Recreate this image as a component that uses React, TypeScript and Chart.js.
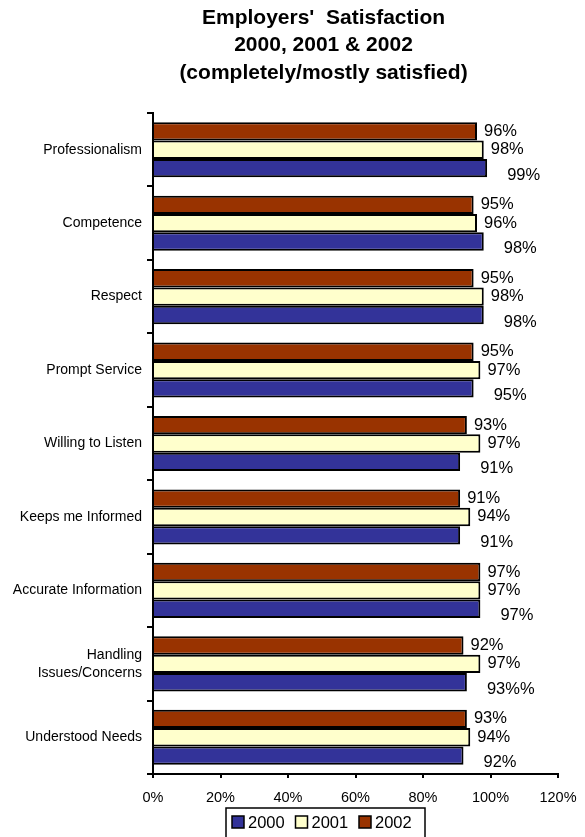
import React, { useEffect, useRef } from "react";
import { Chart, registerables } from "chart.js";

Chart.register(...registerables);

const categories: (string | string[])[] = [
  "Professionalism",
  "Competence",
  "Respect",
  "Prompt Service",
  "Willing to Listen",
  "Keeps me Informed",
  "Accurate Information",
  ["Handling", "Issues/Concerns"],
  "Understood Needs",
];

const values2002 = [96, 95, 95, 95, 93, 91, 97, 92, 93];
const values2001 = [98, 96, 98, 97, 97, 94, 97, 97, 94];
const values2000 = [99, 98, 98, 95, 91, 91, 97, 93, 92];

const labels2002 = ["96%", "95%", "95%", "95%", "93%", "91%", "97%", "92%", "93%"];
const labels2001 = ["98%", "96%", "98%", "97%", "97%", "94%", "97%", "97%", "94%"];
const labels2000 = ["99%", "98%", "98%", "95%", "91%", "91%", "97%", "93%%", "92%"];

const xTicks = [0, 20, 40, 60, 80, 100, 120];
const titleLines = ["Employers'  Satisfaction", "2000, 2001 & 2002", "(completely/mostly satisfied)"];
const legendNames = ["2000", "2001", "2002"];

const COLOR_2000 = "#333399";
const COLOR_2001 = "#FFFFCC";
const COLOR_2002 = "#993300";
const FONT = "'Liberation Sans', Arial, Helvetica, sans-serif";

export default function App() {
  const ref = useRef<HTMLCanvasElement | null>(null);

  useEffect(() => {
    if (!ref.current) return;
    Chart.defaults.font.family = FONT;
    Chart.defaults.color = "#000";

    const seriesLabels = [labels2002, labels2001, labels2000];
    const labelGap = [7, 7, 20];
    const labelDy = [0, 0, 7];

    const decorations = {
      id: "decorations",
      afterDatasetsDraw(chart: any) {
        const ctx = chart.ctx;
        ctx.save();
        ctx.fillStyle = "#000";
        ctx.font = `16.5px ${FONT}`;
        ctx.textAlign = "left";
        ctx.textBaseline = "middle";
        chart.data.datasets.forEach((_: any, di: number) => {
          const meta = chart.getDatasetMeta(di);
          meta.data.forEach((el: any, i: number) => {
            ctx.fillText(seriesLabels[di][i], el.x + labelGap[di], el.y + labelDy[di]);
          });
        });
        ctx.restore();
      },
      afterDraw(chart: any) {
        const ctx = chart.ctx;
        ctx.save();
        // Title
        ctx.fillStyle = "#000";
        ctx.font = `bold 21px ${FONT}`;
        ctx.textAlign = "center";
        ctx.textBaseline = "middle";
        const tx = 315.5;
        titleLines.forEach((t, i) => ctx.fillText(t, tx, 10 + i * 27.5));

        // Legend
        const colors = [COLOR_2000, COLOR_2001, COLOR_2002];
        const boxLeft = 218;
        const boxTop = 800;
        ctx.lineWidth = 1.5;
        ctx.strokeStyle = "#000";
        ctx.fillStyle = "#fff";
        ctx.fillRect(boxLeft, boxTop, 199, 40);
        ctx.strokeRect(boxLeft, boxTop, 199, 40);
        ctx.font = `16.5px ${FONT}`;
        ctx.textAlign = "left";
        ctx.textBaseline = "middle";
        const cy = 814;
        legendNames.forEach((name, i) => {
          const sx = boxLeft + 6 + i * 63.5;
          ctx.fillStyle = colors[i];
          ctx.fillRect(sx, cy - 6, 12, 12);
          ctx.lineWidth = 1.5;
          ctx.strokeStyle = "#000";
          ctx.strokeRect(sx, cy - 6, 12, 12);
          ctx.fillStyle = "#000";
          ctx.fillText(name, sx + 16, cy + 1);
        });
        ctx.restore();
      },
    };

    const chart = new Chart(ref.current, {
      type: "bar",
      data: {
        labels: categories,
        datasets: [
          { label: "2002", data: values2002, backgroundColor: COLOR_2002, borderColor: "#000", borderWidth: 2 },
          { label: "2001", data: values2001, backgroundColor: COLOR_2001, borderColor: "#000", borderWidth: 2 },
          { label: "2000", data: values2000, backgroundColor: COLOR_2000, borderColor: "#000", borderWidth: 2 },
        ],
      },
      options: {
        indexAxis: "y",
        animation: false,
        responsive: false,
        devicePixelRatio: 1,
        layout: { padding: { top: 105, right: 19, bottom: 31, left: 0 } },
        datasets: { bar: { categoryPercentage: 0.75, barPercentage: 1.0 } },
        plugins: {
          legend: { display: false },
          title: { display: false },
          tooltip: { enabled: false },
        },
        scales: {
          x: {
            min: 0,
            max: 120,
            afterBuildTicks: (scale: any) => {
              scale.ticks = xTicks.map((v) => ({ value: v }));
            },
            afterFit: (scale: any) => {
              scale.height = 32;
              scale.paddingLeft = 0;
              scale.paddingRight = 0;
            },
            ticks: {
              callback: (v: any) => v + "%",
              font: { size: 14.5 },
              color: "#000",
              padding: 11,
              maxRotation: 0,
            },
            grid: { drawOnChartArea: false, drawTicks: true, tickLength: 4, color: "#000", lineWidth: 2 },
            border: { display: true, color: "#000", width: 2 },
          },
          y: {
            afterFit: (scale: any) => {
              scale.width = 145;
              scale.paddingTop = 0;
              scale.paddingBottom = 0;
            },
            ticks: {
              font: { size: 14, lineHeight: 1.3 },
              color: "#000",
              padding: 5,
              autoSkip: false,
            },
            grid: { drawOnChartArea: false, drawTicks: true, tickLength: 6, color: "#000", lineWidth: 2, offset: true },
            border: { display: true, color: "#000", width: 2 },
          },
        },
      },
      plugins: [decorations],
    } as any);

    return () => chart.destroy();
  }, []);

  return (
    <canvas
      ref={ref}
      width={569}
      height={829}
      style={{ display: "block", width: "569px", height: "829px" }}
    />
  );
}
